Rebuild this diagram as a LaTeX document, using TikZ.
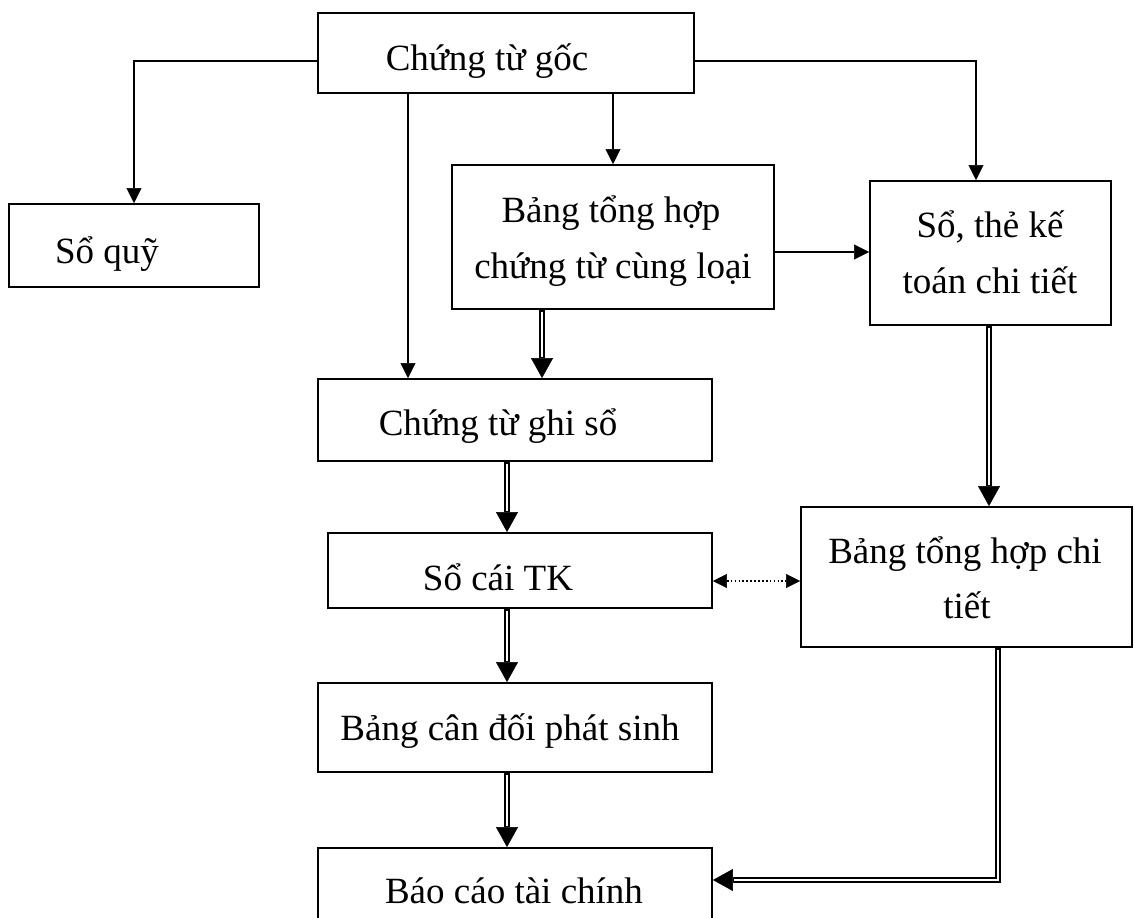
\documentclass[tikz,border=0pt]{standalone}
\usepackage{fontspec}
\setmainfont{Liberation Serif}
\usetikzlibrary{arrows.meta,calc}
\begin{document}
\begin{tikzpicture}[x=1pt,y=-1pt,
  box/.style={draw, line width=1.9pt, inner sep=0pt},
  lbl/.style={anchor=base, inner sep=0pt, font=\fontsize{37}{44}\selectfont},
  arr/.style={line width=1.9pt, -{Triangle[length=15pt,width=15pt,line width=0.5pt]}},
  dblarr/.style={line width=6.4pt, -{Triangle[length=20pt,width=22pt,line width=0.5pt]},
    postaction={draw=white, line width=2.4pt, -, shorten >=21pt, shorten <=1.6pt}},
  dots/.style={line width=1.7pt, dash pattern=on 1.7pt off 2.2pt,
    {Triangle[length=14pt,width=14pt,line width=0.5pt]}-{Triangle[length=14pt,width=14pt,line width=0.5pt]}}
]
\clip (0,0) rectangle (1135,918);
\fill[white] (0,0) rectangle (1135,918);

% boxes
\node[box, minimum width=376pt, minimum height=80pt] (goc) at (506,53) {};
\node[box, minimum width=250pt, minimum height=83pt] (quy) at (134,245.5) {};
\node[box, minimum width=322pt, minimum height=144pt] (bth) at (613,237) {};
\node[box, minimum width=241pt, minimum height=144pt] (ste) at (990.5,253) {};
\node[box, minimum width=394pt, minimum height=82pt] (ghiso) at (515,420) {};
\node[box, minimum width=384pt, minimum height=75pt] (socai) at (520,570.5) {};
\node[box, minimum width=331pt, minimum height=140pt] (btc) at (966.5,577) {};
\node[box, minimum width=394pt, minimum height=89pt] (bcd) at (515,727.5) {};
\node[box, minimum width=394pt, minimum height=92pt] (bctc) at (515,894) {};

% texts
\node[lbl] (goc-t) at (487,70) {Chứng từ gốc};
\node[lbl] (quy-t) at (107,263) {Sổ quỹ};
\node[lbl] (bth-t1) at (611,222) {Bảng tổng hợp};
\node[lbl] (bth-t2) at (613,278) {chứng từ cùng loại};
\node[lbl] (ste-t1) at (990,237) {Sổ, thẻ kế};
\node[lbl] (ste-t2) at (990,293) {toán chi tiết};
\node[lbl] (ghiso-t) at (498,435) {Chứng từ ghi sổ};
\node[lbl] (socai-t) at (498,590) {Sổ cái TK};
\node[lbl] (btc-t1) at (965,563) {Bảng tổng hợp chi};
\node[lbl] (btc-t2) at (967,618) {tiết};
\node[lbl] (bcd-t) at (510,740) {Bảng cân đối phát sinh};
\node[lbl] (bctc-t) at (514,903) {Báo cáo tài chính};

% single connectors
\draw[arr] (goc.west |- 0,61) -| (quy.north);
\draw[arr] (goc.east |- 0,61) -| (ste.north -| 976,0);
\draw[arr] (goc.south -| 408,0) -- (ghiso.north -| 408,0);
\draw[arr] (goc.south -| bth.north) -- (bth.north);
\draw[arr] (bth.east |- 0,252) -- (ste.west |- 0,252);

% double connectors
\draw[dblarr] (bth.south -| 542,0) -- (ghiso.north -| 542,0);
\draw[dblarr] (ste.south -| 989,0) -- (btc.north -| 989,0);
\draw[dblarr] (ghiso.south -| 507,0) -- (socai.north -| 507,0);
\draw[dblarr] (socai.south -| 507,0) -- (bcd.north -| 507,0);
\draw[dblarr] (bcd.south -| 507,0) -- (bctc.north -| 507,0);
\draw[dblarr] (btc.south -| 998,0) |- (bctc.east |- 0,880);

% dotted two-way connector
\draw[dots] (socai.east |- 0,581) -- (btc.west |- 0,581);
\end{tikzpicture}
\end{document}
